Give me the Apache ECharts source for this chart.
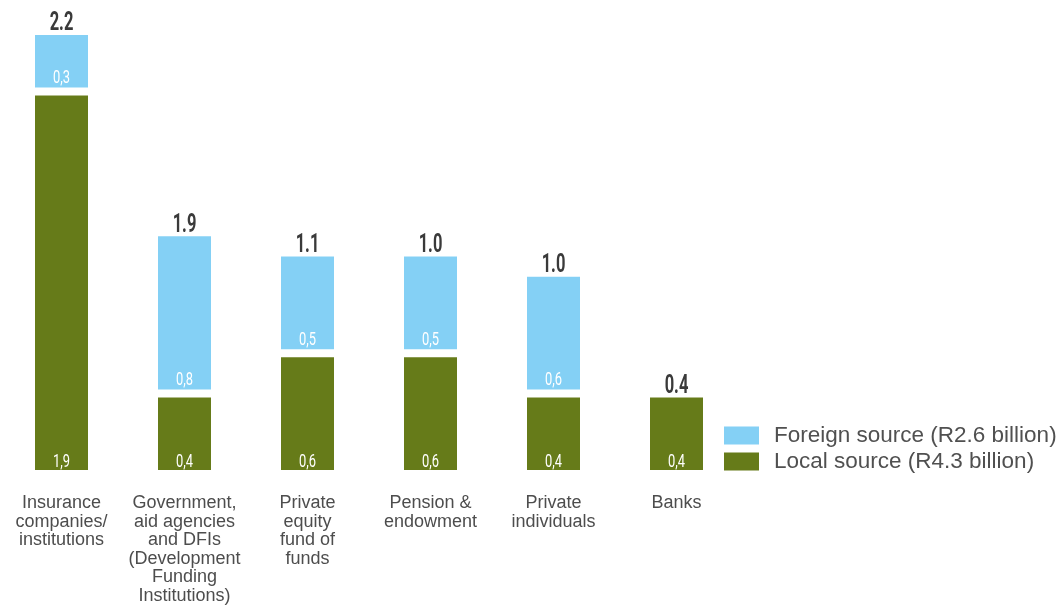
<!DOCTYPE html>
<html>
<head>
<meta charset="utf-8">
<title>Sources of funding</title>
<script src="https://cdn.jsdelivr.net/npm/echarts@6/dist/echarts.min.js"></script>
<style>
  html, body { margin: 0; padding: 0; background: #ffffff; }
  #chart { width: 1064px; height: 606px; }
</style>
</head>
<body>
<div id="chart"></div>
<script>
// Investor categories (line breaks as they are set under each bar)
const categories = [
  'Insurance\ncompanies/\ninstitutions',
  'Government,\naid agencies\nand DFIs\n(Development\nFunding\nInstitutions)',
  'Private\nequity\nfund of\nfunds',
  'Pension &\nendowment',
  'Private\nindividuals',
  'Banks'
];

// Funding per source, R billion
const localSource   = [1.9, 0.4, 0.6, 0.6, 0.4, 0.4];
const foreignSource = [0.3, 0.8, 0.5, 0.5, 0.6, 0];

// Totals printed above each stack
const totals = ['2.2', '1.9', '1.1', '1.0', '1.0', '0.4'];

const seriesNames = ['Foreign source (R2.6 billion)', 'Local source (R4.3 billion)'];

const BLUE = '#84d0f5';
const GREEN = '#667b19';
const SANS = '"Liberation Sans", Arial, sans-serif';
const NUM = 'Roboto, "Liberation Sans", sans-serif';

// Segment gap: the white border eats 4px on each edge of a segment
const BORDER = 4;

const comma = v => v.toFixed(1).replace('.', ',');

// Condensed numeric text anchored at a data point
function numText(str, x, y, size, weight, color, squeeze) {
  return {
    type: 'text',
    x: x,
    y: y,
    scaleX: squeeze,
    style: {
      text: str,
      fill: color,
      fontFamily: NUM,
      fontSize: size,
      fontWeight: weight,
      align: 'center',
      verticalAlign: 'middle'
    }
  };
}

// Totals above the stacks and the value of each segment near its base
function renderLabels(params, api) {
  const i = api.value(0);
  const loc = api.value(1);
  const fr = api.value(2);
  const base = api.coord([i, 0]);
  const mid = api.coord([i, loc]);
  const top = api.coord([i, loc + fr]);
  const x = base[0];
  const children = [];
  children.push(numText(totals[i], x, top[1] - 7, 25, 'bold', '#3a3a3a', 0.66));
  if (loc) children.push(numText(comma(loc), x, base[1] - 12, 19, 'normal', '#ffffff', 0.68));
  if (fr) children.push(numText(comma(fr), x, mid[1] - 13, 19, 'normal', '#ffffff', 0.68));
  return { type: 'group', children: children };
}

const chart = echarts.init(document.getElementById('chart'), null, { renderer: 'canvas' });

chart.setOption({
  animation: false,
  backgroundColor: '#ffffff',
  grid: { left: 0, right: 326, top: 31, bottom: 132, containLabel: false },
  legend: {
    orient: 'vertical',
    left: 719,
    top: 419,
    itemWidth: 35,
    itemHeight: 18,
    itemGap: 3,
    icon: 'rect',
    itemStyle: { borderWidth: 0 },
    data: seriesNames,
    textStyle: { fontFamily: SANS, fontSize: 22.5, color: '#505050', padding: [0, 0, 0, 10] }
  },
  xAxis: {
    type: 'category',
    data: categories,
    axisLine: { show: false },
    axisTick: { show: false },
    axisLabel: {
      interval: 0,
      margin: 20,
      fontFamily: SANS,
      fontSize: 18,
      lineHeight: 18.5,
      color: '#4d4d4d',
      align: 'center'
    }
  },
  yAxis: {
    type: 'value',
    min: 0,
    max: 2.2,
    show: false,
    splitLine: { show: false }
  },
  series: [
    {
      name: seriesNames[1],
      type: 'bar',
      stack: 'total',
      barWidth: 61,
      data: localSource,
      itemStyle: { color: GREEN, borderColor: '#ffffff', borderWidth: BORDER }
    },
    {
      name: seriesNames[0],
      type: 'bar',
      stack: 'total',
      barWidth: 61,
      data: foreignSource,
      itemStyle: { color: BLUE, borderColor: '#ffffff', borderWidth: BORDER }
    },
    {
      name: 'labels',
      type: 'custom',
      z: 10,
      silent: true,
      renderItem: renderLabels,
      encode: { x: 0, y: 1 },
      data: categories.map((c, i) => [i, localSource[i], foreignSource[i]])
    }
  ]
});
</script>
</body>
</html>
